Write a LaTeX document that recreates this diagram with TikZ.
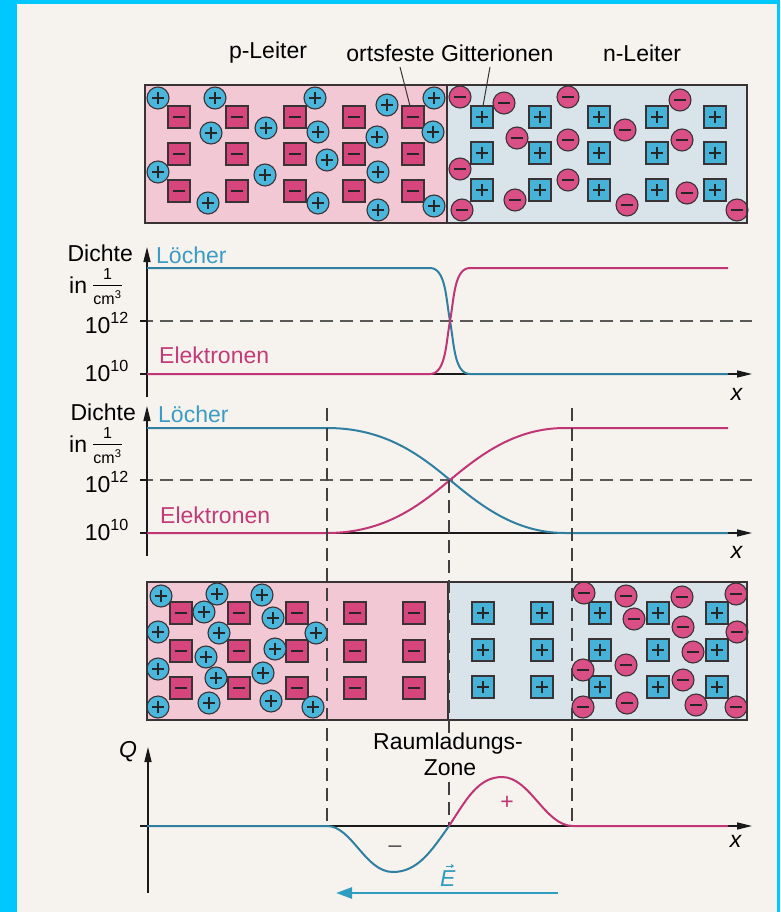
\documentclass[tikz,border=0pt]{standalone}
\usepackage{fontspec}
\setmainfont{Liberation Sans}
\usepackage{amsmath}
\usetikzlibrary{arrows.meta}
\definecolor{framecol}{HTML}{00C8FF}
\definecolor{paper}{HTML}{F6F3EF}
\definecolor{pinkreg}{HTML}{F3C8D5}
\definecolor{bluereg}{HTML}{D9E3EA}
\definecolor{holecol}{HTML}{4BB6DC}
\definecolor{eleccol}{HTML}{DA4F86}
\definecolor{acccol}{HTML}{D6457C}
\definecolor{doncol}{HTML}{46B2D8}
\definecolor{edgecol}{HTML}{3A3335}
\definecolor{loetext}{HTML}{3A9CC4}
\definecolor{loecurve}{HTML}{2F7FA0}
\definecolor{eltext}{HTML}{C23B78}
\definecolor{elcurve}{HTML}{BF3575}
\definecolor{ecol}{HTML}{2F9DC0}
\newcommand{\fracsize}{\fontsize{16}{16}\selectfont}
\newcommand{\unitfrac}{$\vcenter{\hbox{\begin{tabular}{@{}c@{}}\fracsize 1\\[-3pt]\hline\noalign{\vskip1pt}\fracsize cm\textsuperscript{3}\end{tabular}}}$}
\tikzset{
  partedge/.style={draw=edgecol, line width=1.1pt},
  signline/.style={draw=black!85, line width=1.5pt},
  hole/.pic={\draw[partedge, fill=holecol] (0,0) circle (11pt);
             \draw[signline] (-6pt,0pt)--(6pt,0pt) (0pt,-6pt)--(0pt,6pt);},
  elec/.pic={\draw[partedge, fill=eleccol] (0,0) circle (11pt);
             \draw[signline] (-6pt,0pt)--(6pt,0pt);},
  acc/.pic={\draw[partedge, fill=acccol] (-11pt,-11pt) rectangle (11pt,11pt);
            \draw[signline] (-6pt,0pt)--(6pt,0pt);},
  don/.pic={\draw[partedge, fill=doncol] (-11pt,-11pt) rectangle (11pt,11pt);
            \draw[signline] (-6pt,0pt)--(6pt,0pt) (0pt,-6pt)--(0pt,6pt);},
  boxline/.style={draw=edgecol, line width=1.4pt},
  axisline/.style={draw=black!90, line width=1.4pt, -{Triangle[length=15pt,width=7pt]}},
  plainaxis/.style={draw=black!90, line width=1.4pt},
  curveB/.style={draw=loecurve, line width=2pt},
  curveP/.style={draw=elcurve, line width=2pt},
  hdash/.style={draw=black!65, line width=1.3pt, dash pattern=on 13pt off 7pt},
  vdash/.style={draw=black!75, line width=1.1pt, dash pattern=on 13pt off 7pt},
  lbl/.style={font=\fontsize{23}{27}\selectfont, inner sep=0pt},
}
\begin{document}
\begin{tikzpicture}[x=1pt,y=-1pt]
\useasboundingbox (0,0) rectangle (780,912);
\fill[framecol] (0,0) rectangle (780,912);
\fill[paper] (17,4) rectangle (777,912);

% ---------- top crystal ----------
\fill[pinkreg] (145,85) rectangle (447,223);
\fill[bluereg] (447,85) rectangle (747,223);
\foreach \x in {179,237,295,354,413}
  \foreach \y in {117,154,191}
    \pic at (\x,\y) {acc};
\foreach \x in {482,540,599,657,715}
  \foreach \y in {117,153,190}
    \pic at (\x,\y) {don};
\foreach \x/\y in {158/98,215/98,315/98,387/105,434/98,211/133,266/128,318/132,377/137,433/132,327/160,158/172,265/175,378/172,208/203,318/203,378/210,434/206}
  \pic at (\x,\y) {hole};
\foreach \x/\y in {460/97,504/103,568/97,680/100,517/138,568/140,625/130,682/140,460/169,568/180,515/200,627/205,687/193,462/210,737/210}
  \pic at (\x,\y) {elec};
\draw[boxline] (145,85) rectangle (747,223);
\draw[boxline] (447,85) -- (447,223);

\node[lbl] (plab) at (268,53) {p-Leiter};
\node[lbl] (olab) at (450,53) {ortsfeste Gitterionen};
\node[lbl] (nlab) at (642,53) {n-Leiter};
\coordinate (ldAa) at (400,67);
\coordinate (ldAb) at (410,106);
\coordinate (ldBa) at (490,67);
\coordinate (ldBb) at (483,106);
\draw[draw=edgecol, line width=1pt] (ldAa) -- (ldAb);
\draw[draw=edgecol, line width=1pt] (ldBa) -- (ldBb);

% ---------- graph 1 ----------
\draw[hdash] (140,321) -- (752,321);
\draw[plainaxis] (140,321) -- (147,321);
\draw[axisline] (140,374) -- (752,374);
\draw[axisline] (147,397) -- (147,247);
\draw[curveB] (147,268) -- (430,268) .. controls (446,268) and (446,300) .. (450,321) .. controls (454,342) and (454,374) .. (470,374) -- (728,374);
\draw[curveP] (147,374) -- (430,374) .. controls (446,374) and (446,342) .. (450,321) .. controls (454,300) and (454,268) .. (470,268) -- (728,268);
\node[lbl, anchor=base east] (dA) at (133,261) {Dichte};
\node[lbl, anchor=base west, text=loetext] (lA) at (156,263) {Löcher};
\node[lbl, anchor=base west] (iA) at (69,293) {in \unitfrac};
\node[lbl, anchor=base east] (tA) at (129,333) {10\textsuperscript{12}};
\node[lbl, anchor=base west, text=eltext] (eA) at (159,363) {Elektronen};
\node[lbl, anchor=base east] (bA) at (129,381) {10\textsuperscript{10}};
\node[lbl] (xA) at (737,394) {\textit{x}};

% ---------- graph 2 ----------
\draw[hdash] (140,480) -- (752,480);
\draw[plainaxis] (140,480) -- (147,480);
\draw[axisline] (140,533) -- (752,533);
\draw[axisline] (147,556) -- (147,406);
\draw[curveB] (147,428) -- (327,428) .. controls (385,428) and (420,455) .. (450,480) .. controls (480,505) and (515,533) .. (565,533) -- (728,533);
\draw[curveP] (147,533) -- (327,533) .. controls (385,533) and (420,505) .. (450,480) .. controls (480,455) and (515,428) .. (565,428) -- (728,428);
\node[lbl, anchor=base east] (dB) at (136,420) {Dichte};
\node[lbl, anchor=base west, text=loetext] (lB) at (158,422) {Löcher};
\node[lbl, anchor=base west] (iB) at (69,452) {in \unitfrac};
\node[lbl, anchor=base east] (tB) at (129,492) {10\textsuperscript{12}};
\node[lbl, anchor=base west, text=eltext] (eB) at (160,523) {Elektronen};
\node[lbl, anchor=base east] (bB) at (129,540) {10\textsuperscript{10}};
\node[lbl] (xB) at (737,552) {\textit{x}};

% ---------- lower crystal ----------
\fill[pinkreg] (147,582) rectangle (448,720);
\fill[bluereg] (448,582) rectangle (747,720);
\foreach \x in {181,239,297,355,414}
  \foreach \y in {613,651,688}
    \pic at (\x,\y) {acc};
\foreach \x in {483,542,600,658,717}
  \foreach \y in {613,650,687}
    \pic at (\x,\y) {don};
\foreach \x/\y in {161/596,217/594,262/595,204/612,273/618,158/632,219/633,316/633,206/657,275/649,158/669,216/678,263/673,158/707,209/703,271/701,313/707}
  \pic at (\x,\y) {hole};
\foreach \x/\y in {584/593,626/596,682/597,736/594,634/619,683/627,737/632,693/652,626/665,583/670,683/680,583/707,627/703,696/705,736/707}
  \pic at (\x,\y) {elec};
\draw[boxline] (147,582) rectangle (747,720);
\draw[boxline] (448,582) -- (448,720);

% ---------- dashed zone borders ----------
\draw[vdash] (327,408) -- (327,826);
\draw[vdash] (572,408) -- (572,826);
\draw[vdash] (449,480) -- (449,733);
\draw[vdash] (449,782) -- (449,826);

% ---------- graph 3 ----------
\draw[axisline] (140,826) -- (752,826);
\draw[axisline] (148,893) -- (148,747);
\draw[curveB] (147,826) -- (327,826) .. controls (352,826) and (365,872) .. (393,872) .. controls (418,872) and (432,850) .. (449,826);
\draw[curveP] (449,826) .. controls (466,800) and (478,777) .. (502,777) .. controls (530,777) and (545,826) .. (573,826) -- (728,826);
\node[lbl] (qC) at (128,752) {\textit{Q}};
\node[lbl] (xC) at (736,841) {\textit{x}};
\node[lbl] (rz1) at (448,744) {Raumladungs-};
\node[lbl] (rz2) at (450,768) {Zone};
\node[lbl, text=black!70] (mC) at (395,849) {–};
\node[lbl, text=elcurve] (pC) at (507,803) {+};
\node[lbl, text=ecol] (eC) at (448,879) {\textit{E}};
\coordinate (veca) at (446,866);
\coordinate (vecb) at (454,866);
\draw[draw=ecol, line width=1pt, -{Straight Barb[length=2pt,width=3pt]}] (veca) -- (vecb);
\coordinate (ear) at (558,893);
\coordinate (eal) at (336,893);
\draw[draw=ecol, line width=2.6pt, -{Triangle[length=16pt,width=11pt]}] (ear) -- (eal);
\end{tikzpicture}
\end{document}
